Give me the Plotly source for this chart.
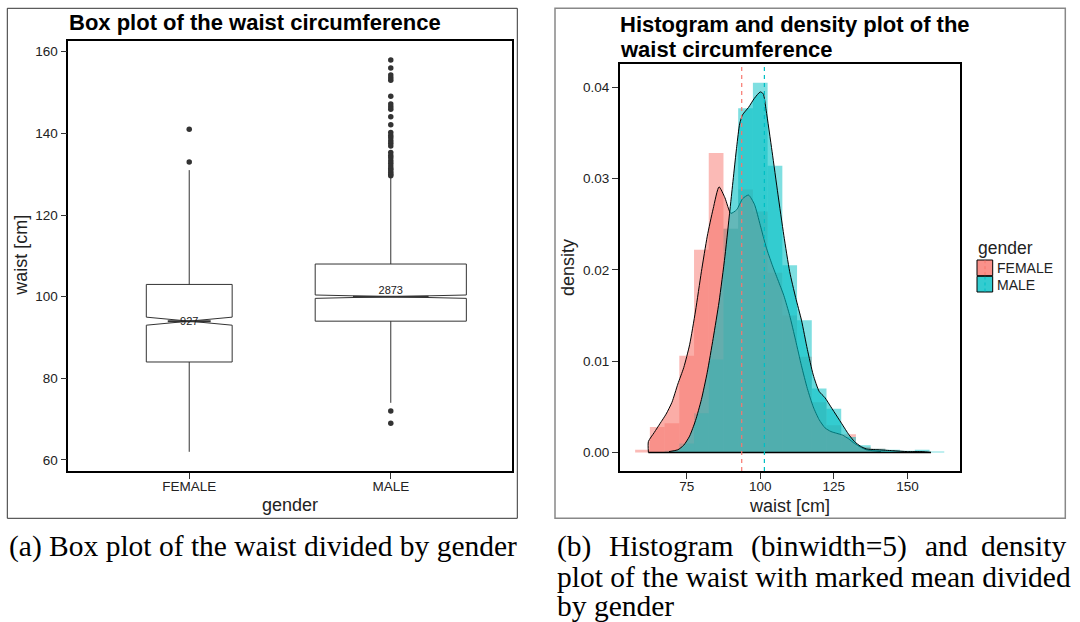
import math
import plotly.graph_objects as go

W, H = 1080, 622

# ---------------- box plot: waist [cm] by gender ----------------
genders = ["FEMALE", "MALE"]
counts = [927, 2873]
q1 = [84, 94]
median = [94, 100]
q3 = [103, 108]
whisker_low = [62, 74]
whisker_high = [131, 129.4]
means = [93.7, 101.4]
female_outliers = [133, 141]
male_outliers = [69, 72,
                 129.6, 130, 130.5, 131, 131.4, 132, 132.7, 133.3, 134, 134.6,
                 135.3, 136.9, 137.6, 138.2, 138.9, 139.5, 140.2, 142.1, 144.1,
                 145.9, 146.5, 147.2, 149.1, 153, 153.6, 154.3, 156, 158]

# ---------------- histogram (binwidth = 5) + density ----------------
bin_centers = [60, 65, 70, 75, 80, 85, 90, 95, 100, 105, 110,
               115, 120, 125, 130, 135, 140, 145, 150, 155, 160]
female_hist = [0.0003, 0.0028, 0.0032, 0.0106, 0.0222, 0.0328, 0.0245, 0.0288,
               0.0264, 0.0197, 0.0150, 0.0105, 0.0055, 0.0030, 0.0020, 0.0006,
               0.0004, 0.0, 0.0, 0.0, 0.0]
male_hist = [0.0, 0.0, 0.0002, 0.0010, 0.0043, 0.0102, 0.0245, 0.0377, 0.0405,
             0.0314, 0.0205, 0.0145, 0.0070, 0.0048, 0.0017, 0.0008, 0.0004,
             0.0003, 0.0002, 0.0003, 0.0001]

female_dens_x = [62, 62, 64, 66, 68, 70, 72, 74, 76, 78, 80, 82, 84, 86, 88, 90,
                 92, 94, 96, 98, 100, 102, 104, 106, 108, 110, 112, 114, 116,
                 118, 120, 122, 124, 126, 128, 130, 132, 134, 136, 138, 141]
female_dens_y = [0.0, 0.0012, 0.0022, 0.0032, 0.0042, 0.0055, 0.0075, 0.0093,
                 0.0118, 0.0155, 0.0198, 0.0237, 0.0267, 0.0291, 0.0279, 0.0262,
                 0.0266, 0.0278, 0.0282, 0.0272, 0.0249, 0.0225, 0.0206, 0.0189,
                 0.0172, 0.0150, 0.0123, 0.0095, 0.0070, 0.0050, 0.0036, 0.0027,
                 0.0023, 0.0021, 0.0019, 0.0015, 0.0010, 0.0006, 0.0003, 0.0002,
                 0.0001]
male_dens_x = [69, 72, 74, 76, 78, 80, 82, 84, 86, 88, 90, 92, 93, 94, 96, 98,
               100, 101, 102, 104, 106, 108, 110, 112, 114, 116, 118, 120, 122,
               124, 126, 128, 130, 132, 134, 136, 140, 145, 150, 155, 158]
male_dens_y = [0.0001, 0.0003, 0.0008, 0.0018, 0.0035, 0.0058, 0.0088, 0.0125,
               0.0165, 0.0215, 0.0275, 0.0335, 0.0360, 0.0370, 0.0378, 0.0388,
               0.0395, 0.0393, 0.0375, 0.0330, 0.0283, 0.0238, 0.0198, 0.0170,
               0.0145, 0.0113, 0.0085, 0.0067, 0.0060, 0.0050, 0.0040, 0.0030,
               0.0020, 0.0012, 0.0007, 0.0004, 0.0003, 0.0002, 0.0001, 0.0001,
               0.0]

# ---------------- styling ----------------
SANS = "Liberation Sans, Arial, Helvetica, sans-serif"
SERIF = "Liberation Serif, Times New Roman, serif"
INK = "#222222"
BOX_LINE = "#333333"
COL = {"FEMALE": (248, 118, 109), "MALE": (0, 191, 196)}


def rgba(c, a):
    return "rgba(%d,%d,%d,%.2f)" % (c[0], c[1], c[2], a)


def hexc(c):
    return "#%02X%02X%02X" % c


def px(x):
    return x / W


def py(y):
    return 1 - y / H


# plot-area pixel boxes
L_X0, L_X1, L_Y0, L_Y1 = 68.3, 511.7, 40.7, 471.0
R_X0, R_X1, R_Y0, R_Y1 = 619.7, 959.7, 64.3, 471.0

fig = go.Figure()

# ---- left panel: notched, variable-width box plot ----
max_sqrt_n = max(math.sqrt(n) for n in counts)
for i, g in enumerate(genders):
    pos = i + 1
    w = 0.75 * math.sqrt(counts[i]) / max_sqrt_n
    notch = 1.58 * (q3[i] - q1[i]) / math.sqrt(counts[i])
    fig.add_trace(go.Box(
        x=[pos], q1=[q1[i]], median=[median[i]], q3=[q3[i]],
        lowerfence=[whisker_low[i]], upperfence=[whisker_high[i]],
        notchspan=[notch], notched=True, notchwidth=0.5,
        width=w, whiskerwidth=0, boxpoints=False,
        fillcolor="white", line=dict(color=BOX_LINE, width=1),
        xaxis="x", yaxis="y", showlegend=False, hoverinfo="skip"))
    # thicker median segment
    fig.add_trace(go.Scatter(
        x=[pos - w / 4, pos + w / 4], y=[median[i], median[i]], mode="lines",
        line=dict(color=BOX_LINE, width=2), xaxis="x", yaxis="y",
        showlegend=False, hoverinfo="skip"))

for i, outs in enumerate([female_outliers, male_outliers]):
    fig.add_trace(go.Scatter(
        x=[i + 1] * len(outs), y=outs, mode="markers",
        marker=dict(color=BOX_LINE, size=5.5, line=dict(width=0)),
        xaxis="x", yaxis="y", showlegend=False, hoverinfo="skip"))

fig.add_trace(go.Scatter(
    x=[1, 2], y=means, mode="text", text=[str(n) for n in counts],
    textfont=dict(family=SANS, size=11, color=INK), textposition="middle center",
    xaxis="x", yaxis="y", showlegend=False, hoverinfo="skip"))

# ---- right panel: overlaid histograms and densities ----
for g, hist in (("FEMALE", female_hist), ("MALE", male_hist)):
    fig.add_trace(go.Bar(
        x=bin_centers, y=hist, width=5, marker=dict(color=rgba(COL[g], 0.5), line=dict(width=0)),
        xaxis="x2", yaxis="y2", showlegend=False, hoverinfo="skip"))

for g, dx, dy in (("FEMALE", female_dens_x, female_dens_y),
                  ("MALE", male_dens_x, male_dens_y)):
    fig.add_trace(go.Scatter(
        x=dx, y=dy, mode="lines", fill="tozeroy", fillcolor=rgba(COL[g], 0.6),
        line=dict(color="black", width=1, shape="spline", smoothing=0.6),
        xaxis="x2", yaxis="y2", showlegend=False, hoverinfo="skip"))

# density baseline
base_lo = min(female_dens_x[0], male_dens_x[0])
base_hi = max(female_dens_x[-1], male_dens_x[-1])
fig.add_trace(go.Scatter(
    x=[base_lo, base_hi], y=[0, 0], mode="lines", line=dict(color="black", width=1.5),
    xaxis="x2", yaxis="y2", showlegend=False, hoverinfo="skip"))

shapes = []
# mean lines
for i, g in enumerate(genders):
    shapes.append(dict(type="line", xref="x2", yref="y2 domain", x0=means[i], x1=means[i],
                       y0=0, y1=1, line=dict(color=hexc(COL[g]), width=1.2, dash="4px,4px"),
                       layer="above"))

# panel frames
shapes.append(dict(type="rect", xref="paper", yref="paper", x0=px(7.3), x1=px(517.3),
                   y0=py(518.3), y1=py(8.3), line=dict(color="#333333", width=1)))
shapes.append(dict(type="rect", xref="paper", yref="paper", x0=px(555), x1=px(1065.3),
                   y0=py(518.3), y1=py(8.3), line=dict(color="#888888", width=1.5)))

# legend keys
key_x0, key_x1 = 977, 992.7
for i, (g, (y0, y1)) in enumerate(zip(genders, [(260, 275.7), (276.3, 292)])):
    shapes.append(dict(type="rect", xref="paper", yref="paper", x0=px(key_x0), x1=px(key_x1),
                       y0=py(y1), y1=py(y0), fillcolor=rgba(COL[g], 0.8),
                       line=dict(color="black", width=1)))
    shapes.append(dict(type="line", xref="paper", yref="paper", x0=px(985), x1=px(985),
                       y0=py(y1 - 0.5), y1=py(y0 + 0.5),
                       line=dict(color=hexc(COL[g]), width=1, dash="3px,3px")))

annotations = []


def text(x, y, s, size, xanchor="left", bold=False, family=SANS, angle=0, color=INK):
    annotations.append(dict(
        x=px(x), y=py(y), xref="paper", yref="paper", text="<b>%s</b>" % s if bold else s,
        showarrow=False, xanchor=xanchor, yanchor="middle", textangle=angle,
        font=dict(family=family, size=size, color=color)))


text(67, 23, "Box plot of the waist circumference", 22, bold=True, color="black")
text(618, 24, "Histogram and density plot of the", 22, bold=True, color="black")
text(618, 49.5, "waist circumference", 22, bold=True, color="black")
text((L_X0 + L_X1) / 2, 505, "gender", 18, xanchor="center")
text(21, (L_Y0 + L_Y1) / 2, "waist [cm]", 18, xanchor="center", angle=-90)
text((R_X0 + R_X1) / 2, 506, "waist [cm]", 18, xanchor="center")
text(568, 268, "density", 18, xanchor="center", angle=-90)
text(976, 248, "gender", 17.5)
text(995, 268, "FEMALE", 14)
text(995, 284.5, "MALE", 14)

# captions (first line of (b) is set justified, word by word)
CAP = 29.5
text(7, 546, "(a) Box plot of the waist divided by gender", CAP, family=SERIF, color="black")
for s, x, anc in (("(b)", 555, "left"), ("Histogram", 607, "left"),
                  ("(binwidth=5)", 749, "left"), ("and", 923, "left"),
                  ("density", 1068, "right")):
    text(x, 546, s, CAP, xanchor=anc, family=SERIF, color="black")
text(555, 576.5, "plot of the waist with marked mean divided", CAP, family=SERIF, color="black")
text(555, 606, "by gender", CAP, family=SERIF, color="black")

axis_common = dict(showgrid=False, zeroline=False, ticks="outside", ticklen=6,
                   tickcolor="#333333", tickwidth=1, showline=True, linecolor="black",
                   linewidth=1.5, mirror=True, tickfont=dict(family=SANS, size=13.5, color=INK))

fig.update_layout(
    width=W, height=H, margin=dict(l=0, r=0, t=0, b=0),
    paper_bgcolor="white", plot_bgcolor="white",
    boxmode="overlay", barmode="overlay", showlegend=False,
    xaxis=dict(domain=[px(L_X0), px(L_X1)], range=[0.4, 2.6], tickvals=[1, 2],
               ticktext=genders, anchor="y", ticklabelstandoff=-4, **axis_common),
    yaxis=dict(domain=[py(L_Y1), py(L_Y0)], range=[57.3, 162.7],
               tickvals=[60, 80, 100, 120, 140, 160], anchor="x", **axis_common),
    xaxis2=dict(domain=[px(R_X0), px(R_X1)], range=[52.25, 167.75],
                tickvals=[75, 100, 125, 150], anchor="y2", ticklabelstandoff=-4,
                **axis_common),
    yaxis2=dict(domain=[py(R_Y1), py(R_Y0)], range=[-0.002025, 0.042525],
                tickvals=[0, 0.01, 0.02, 0.03, 0.04], tickformat=".2f", anchor="x2",
                **axis_common),
    shapes=shapes, annotations=annotations,
)

fig.write_html("out.html")
